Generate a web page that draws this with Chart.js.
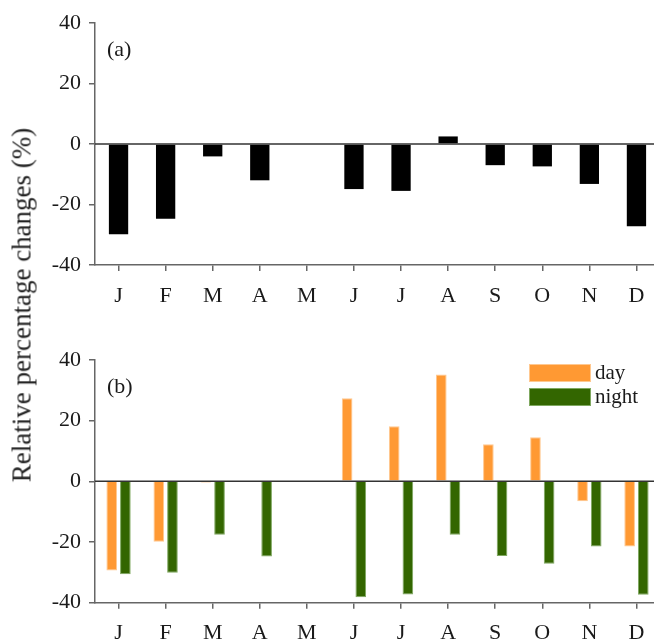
<!DOCTYPE html>
<html>
<head>
<meta charset="utf-8">
<script src="https://cdn.jsdelivr.net/npm/chart.js@4.4.1/dist/chart.umd.min.js"></script>
<style>
  html, body { margin: 0; padding: 0; background: #fff; overflow: hidden; width: 654px; height: 641px; }
  #wrap { position: relative; width: 654px; height: 641px; overflow: hidden; }
  canvas { position: absolute; left: 0; }
  #ytitle {
    position: absolute; left: 22px; top: 305px;
    transform: translate(-50%, -50%) rotate(-90deg);
    white-space: nowrap; font-family: "Liberation Serif", "Times New Roman", serif;
    font-size: 27px; color: #222; line-height: 1;
  }
</style>
</head>
<body>
<div id="wrap">
  <canvas id="chartA" width="660" height="320" style="top:0px"></canvas>
  <canvas id="chartB" width="660" height="316" style="top:325px"></canvas>
  <div id="ytitle">Relative percentage changes (%)</div>
</div>
<script>
// ---- data ----
const months = ['J','F','M','A','M','J','J','A','S','O','N','D'];
const totalChange = [-29.8, -24.7, -4.1, -12.0, 0, -14.9, -15.5, 2.5, -7.0, -7.4, -13.2, -27.2];
const dayChange   = [-29.4, -19.9, -0.4, -0.1, 0, 27.4, 18.2, 35.2, 12.2, 14.5, -6.6, -21.5];
const nightChange = [-30.6, -30.1, -17.6, -24.8, 0, -38.2, -37.3, -17.6, -24.6, -27.2, -21.5, -37.4];
const yTicks = [-40, -20, 0, 20, 40];
const seriesNames = ['day', 'night'];
const panelLabels = ['(a)', '(b)'];

const FONT = '"Liberation Serif", "Times New Roman", serif';
const AXIS_COLOR = '#666';
const TEXT_COLOR = '#1a1a1a';

const zeroLinePlugin = {
  id: 'zeroLine',
  afterDatasetsDraw(chart) {
    const { ctx, chartArea, scales } = chart;
    const y = scales.y.getPixelForValue(0);
    ctx.save();
    ctx.strokeStyle = '#333';
    ctx.lineWidth = 1.5;
    ctx.beginPath();
    ctx.moveTo(chartArea.left, y);
    ctx.lineTo(chartArea.right, y);
    ctx.stroke();
    ctx.restore();
  }
};

const panelLabelPlugin = {
  id: 'panelLabel',
  afterDraw(chart, args, opts) {
    const { ctx, chartArea } = chart;
    ctx.save();
    ctx.font = '22px ' + FONT;
    ctx.fillStyle = TEXT_COLOR;
    ctx.textBaseline = 'alphabetic';
    ctx.fillText(opts.text, chartArea.left + 12, chartArea.top + opts.dy);
    ctx.restore();
  }
};

const boxLegendPlugin = {
  id: 'boxLegend',
  afterDraw(chart, args, opts) {
    if (!opts.show) return;
    const { ctx, chartArea } = chart;
    ctx.save();
    ctx.font = '21px ' + FONT;
    ctx.textBaseline = 'middle';
    chart.data.datasets.forEach((ds, i) => {
      const x = chartArea.left + 434;
      const y = chartArea.top + 4 + i * 24;
      ctx.fillStyle = ds.backgroundColor;
      ctx.fillRect(x, y, 62, 18);
      ctx.strokeStyle = ds.borderColor;
      ctx.lineWidth = 1;
      ctx.strokeRect(x + 0.5, y + 0.5, 61, 17);
      ctx.fillStyle = TEXT_COLOR;
      ctx.fillText(ds.label, x + 66, y + 9);
    });
    ctx.restore();
  }
};

function scales(xHeight, labelPad) {
  return {
    x: {
      offset: true,
      grid: { offset: false, drawOnChartArea: false, drawTicks: true, tickLength: 6, color: AXIS_COLOR, lineWidth: 1.5 },
      border: { display: true, color: AXIS_COLOR, width: 1.5 },
      ticks: { font: { family: FONT, size: 22 }, color: TEXT_COLOR, padding: labelPad, maxRotation: 0, autoSkip: false },
      afterFit(s) { s.height = xHeight; }
    },
    y: {
      min: -40, max: 40,
      afterBuildTicks(s) { s.ticks = yTicks.map(v => ({ value: v })); },
      grid: { drawOnChartArea: false, drawTicks: true, tickLength: 6, color: AXIS_COLOR, lineWidth: 1.5 },
      border: { display: true, color: AXIS_COLOR, width: 1.5 },
      ticks: { font: { family: FONT, size: 22 }, color: TEXT_COLOR, padding: 8 },
      afterFit(s) { s.width = 95; }
    }
  };
}

new Chart(document.getElementById('chartA'), {
  type: 'bar',
  data: {
    labels: months,
    datasets: [{
      label: 'total',
      data: totalChange,
      backgroundColor: '#000000',
      borderColor: '#000000',
      borderWidth: 0,
      barPercentage: 0.41,
      categoryPercentage: 1.0
    }]
  },
  options: {
    responsive: false,
    animation: false,
    devicePixelRatio: 1,
    layout: { padding: { top: 23, left: 0, right: 0, bottom: 0 } },
    plugins: {
      legend: { display: false },
      tooltip: { enabled: false },
      panelLabel: { text: panelLabels[0], dy: 33 },
      boxLegend: { show: false }
    },
    scales: scales(55, 12)
  },
  plugins: [zeroLinePlugin, panelLabelPlugin, boxLegendPlugin]
});

new Chart(document.getElementById('chartB'), {
  type: 'bar',
  data: {
    labels: months,
    datasets: [{
      label: seriesNames[0],
      data: dayChange,
      backgroundColor: '#FF9933',
      borderColor: '#FFC890',
      borderWidth: 1,
      barPercentage: 0.78,
      categoryPercentage: 0.58
    }, {
      label: seriesNames[1],
      data: nightChange,
      backgroundColor: '#336600',
      borderColor: '#7FA860',
      borderWidth: 1,
      barPercentage: 0.78,
      categoryPercentage: 0.58
    }]
  },
  options: {
    responsive: false,
    animation: false,
    devicePixelRatio: 1,
    layout: { padding: { top: 35, left: 0, right: 0, bottom: 0 } },
    plugins: {
      legend: { display: false },
      tooltip: { enabled: false },
      panelLabel: { text: panelLabels[1], dy: 33 },
      boxLegend: { show: true }
    },
    scales: scales(38.3, 11)
  },
  plugins: [zeroLinePlugin, panelLabelPlugin, boxLegendPlugin]
});
</script>
</body>
</html>
